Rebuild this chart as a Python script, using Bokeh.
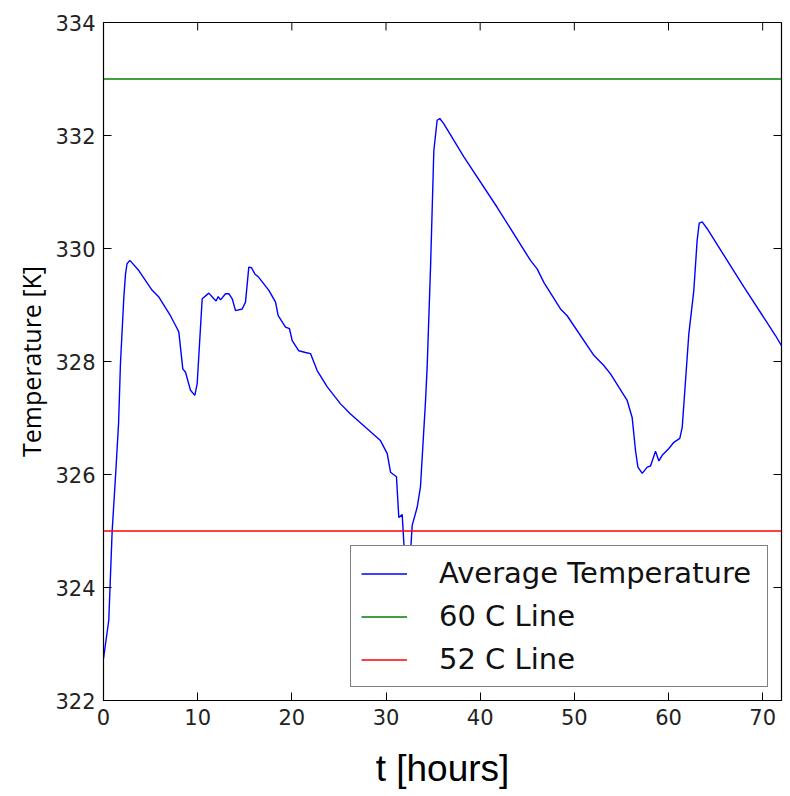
import math
from bokeh.plotting import figure
from bokeh.models import Range1d, FixedTicker
from bokeh.embed import file_html
from bokeh.resources import INLINE

hours = [0, 0.56, 0.92, 1.27, 1.6, 1.8, 2.16, 2.34, 2.5, 2.8, 3.75, 5.17, 5.88, 7.11, 7.83, 8.0,
         8.42, 8.71, 9.24, 9.7, 9.95, 10.48, 11.19, 11.72, 11.96, 12.18, 12.43, 12.96, 13.31,
         13.67, 14.02, 14.73, 15.08, 15.43, 15.72, 16.07, 16.49, 17.56, 18.27, 18.55, 19.33,
         19.75, 20.04, 20.74, 21.45, 21.98, 22.69, 23.76, 25.17, 26.23, 28.0, 29.41, 30.13,
         30.48, 31.11, 31.36, 31.72, 31.96, 32.25, 32.6, 32.78, 33.31, 33.66, 34.2, 34.37, 34.73,
         35.08, 35.43, 35.71, 36.13, 38.27, 41.8, 45.34, 46.05, 46.76, 48.53, 49.24, 52.07,
         53.13, 53.84, 55.61, 56.14, 56.5, 56.75, 57.21, 57.74, 58.09, 58.62, 58.98, 59.33,
         60.04, 60.57, 61.2, 61.46, 62.16, 62.69, 63.04, 63.26, 63.58, 64.11, 68.0, 71.36, 72.0]
avg_temp = [322.74, 323.42, 325.0, 325.95, 326.9, 327.96, 329.14, 329.55, 329.73, 329.79, 329.61,
            329.26, 329.14, 328.81, 328.58, 328.52, 327.87, 327.81, 327.49, 327.40, 327.61,
            329.11, 329.21, 329.11, 329.07, 329.15, 329.09, 329.20, 329.20, 329.11, 328.90,
            328.93, 329.05, 329.67, 329.66, 329.55, 329.49, 329.26, 329.05, 328.81, 328.61,
            328.58, 328.37, 328.19, 328.16, 328.14, 327.84, 327.55, 327.25, 327.07, 326.81,
            326.60, 326.37, 326.04, 325.96, 325.24, 325.29, 324.6, 324.0, 324.6, 325.1, 325.42,
            325.78, 327.31, 327.90, 329.67, 331.73, 332.27, 332.30, 332.21, 331.62, 330.73,
            329.79, 329.64, 329.40, 328.93, 328.81, 328.11, 327.93, 327.78, 327.31, 327.01,
            326.42, 326.13, 326.02, 326.13, 326.15, 326.41, 326.24, 326.34, 326.46, 326.57,
            326.64, 326.84, 328.49, 329.26, 330.14, 330.45, 330.47, 330.35, 329.32, 328.46, 328.28]
line_60c = 333.0
line_52c = 325.0
x_ticks = [0, 10, 20, 30, 40, 50, 60, 70]
y_ticks = [322, 324, 326, 328, 330, 332, 334]
x_min, x_max = 0, 72
y_min, y_max = 322, 334

p = figure(frame_width=678, frame_height=678,
           x_range=Range1d(x_min, x_max), y_range=Range1d(y_min, y_max),
           output_backend="svg", toolbar_location=None,
           min_border_left=103, min_border_top=22, min_border_right=6, min_border_bottom=86,
           x_axis_label="t [hours]", y_axis_label="Temperature [K]")
p.grid.visible = False
p.outline_line_color = "black"
p.outline_line_width = 1.2

p.line(hours, avg_temp, line_color="#0000ff", line_width=1.4, legend_label="Average Temperature")
p.line([x_min, x_max], [line_60c, line_60c], line_color="#008000", line_width=1.4,
       legend_label="60 C Line")
p.line([x_min, x_max], [line_52c, line_52c], line_color="#ff0000", line_width=1.4,
       legend_label="52 C Line")

# mirrored inward ticks on top and right edges
p.ray(x=x_ticks, y=[y_max] * len(x_ticks), length=8, length_units="screen",
      angle=-math.pi / 2, line_color="black", line_width=1)
p.ray(x=[x_max] * len(y_ticks), y=y_ticks, length=8, length_units="screen",
      angle=math.pi, line_color="black", line_width=1)

for ax in (p.xaxis[0], p.yaxis[0]):
    ax.major_tick_in = 8
    ax.major_tick_out = 0
    ax.minor_tick_line_color = None
    ax.axis_line_color = "black"
    ax.major_tick_line_color = "black"
    ax.major_label_text_font = "DejaVu Sans"
    ax.major_label_text_font_size = "21px"
    ax.major_label_text_color = "#222222"
    ax.axis_label_text_font_style = "normal"
    ax.axis_label_text_color = "black"

p.xaxis[0].ticker = FixedTicker(ticks=x_ticks)
p.yaxis[0].ticker = FixedTicker(ticks=y_ticks)
p.xaxis[0].major_label_standoff = 8
p.yaxis[0].major_label_standoff = 8
p.xaxis[0].axis_label_text_font = "Liberation Sans"
p.xaxis[0].axis_label_text_font_size = "37px"
p.xaxis[0].axis_label_standoff = 20
p.yaxis[0].axis_label_text_font = "Open Sans"
p.yaxis[0].axis_label_text_font_size = "25px"
p.yaxis[0].axis_label_standoff = 4

lg = p.legend[0]
lg.location = "bottom_right"
lg.margin = 13
lg.padding = 10
lg.border_line_color = "black"
lg.border_line_width = 1.2
lg.background_fill_color = "white"
lg.background_fill_alpha = 1.0
lg.label_text_font = "DejaVu Sans"
lg.label_text_font_size = "29px"
lg.label_text_color = "#111111"
lg.glyph_width = 46
lg.label_standoff = 32
lg.label_width = 318
lg.glyph_height = 33
lg.label_height = 33
lg.spacing = 9

open("out.html", "w").write(file_html(p, INLINE))
